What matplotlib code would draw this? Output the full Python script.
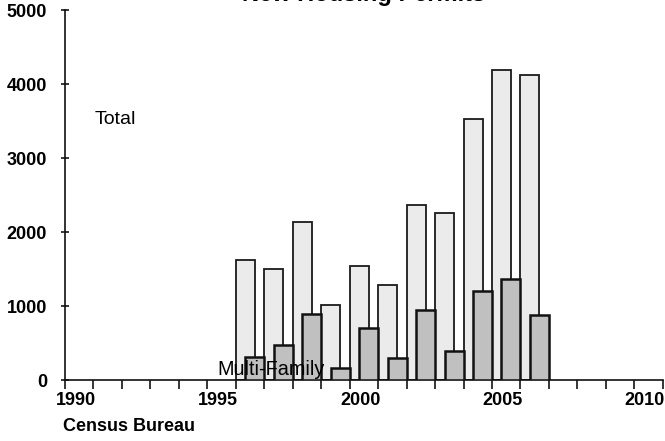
import numpy as np
import matplotlib.pyplot as plt
from matplotlib.ticker import MultipleLocator
from matplotlib.transforms import ScaledTranslation

plt.rcParams['font.family'] = ['Liberation Sans', 'DejaVu Sans']

# data
years = [1996, 1997, 1998, 1999, 2000, 2001, 2002, 2003, 2004, 2005, 2006]
total = [1630, 1508, 2142, 1019, 1540, 1291, 2369, 2264, 3528, 4189, 4121]
multi = [317, 467, 892, 158, 698, 304, 951, 399, 1200, 1363, 874]
xticks = [1990, 1995, 2000, 2005, 2010]
yticks = [0, 1000, 2000, 3000, 4000, 5000]

fig = plt.figure(figsize=(6.65, 4.41), dpi=100)
ax = fig.add_axes([0.0977, 0.1383, 0.899, 0.838])

w = 2 / 3
x = np.array(years, dtype=float)
ax.bar(x, total, width=w, align='edge', color='#ebebeb', edgecolor='#1a1a1a', linewidth=1.3, zorder=2)
ax.bar(x + 1 / 3, multi, width=w, align='edge', color='#c0c0c0', edgecolor='#111111', linewidth=1.8, zorder=3)

ax.text(1991.05, 3530, 'Total', fontsize=14, va='center', ha='left', zorder=5)
ax.text(1995.36, 140, 'Multi-Family', fontsize=14.3, va='center', ha='left', zorder=5)

ax.set_xlim(1990, 2011)
ax.set_ylim(0, 5000)
ax.set_xticks(xticks)
ax.xaxis.set_minor_locator(MultipleLocator(1))
ax.set_yticks(yticks)

for s in ['top', 'right']:
    ax.spines[s].set_visible(False)
for s in ['left', 'bottom']:
    ax.spines[s].set_linewidth(1.2)
    ax.spines[s].set_color('#111111')

ax.tick_params(axis='x', which='both', direction='out', length=6.2, width=1.1, pad=2.5)
ax.tick_params(axis='y', which='major', direction='inout', length=6, width=1.1, pad=10)
# year labels sit a little to the right of their ticks
shift = ScaledTranslation(10.5 / 100, 0, fig.dpi_scale_trans)
for lab in ax.get_xticklabels():
    lab.set_transform(lab.get_transform() + shift)
for lab in ax.get_xticklabels() + ax.get_yticklabels():
    lab.set_fontweight('bold')
    lab.set_fontsize(13)

ax.set_title('New Housing Permits', fontsize=17, fontweight='bold', pad=7)
fig.text(0.095, 0.033, 'Census Bureau', fontsize=13, fontweight='bold', va='center', ha='left')

fig.savefig('out.png', dpi=100)
